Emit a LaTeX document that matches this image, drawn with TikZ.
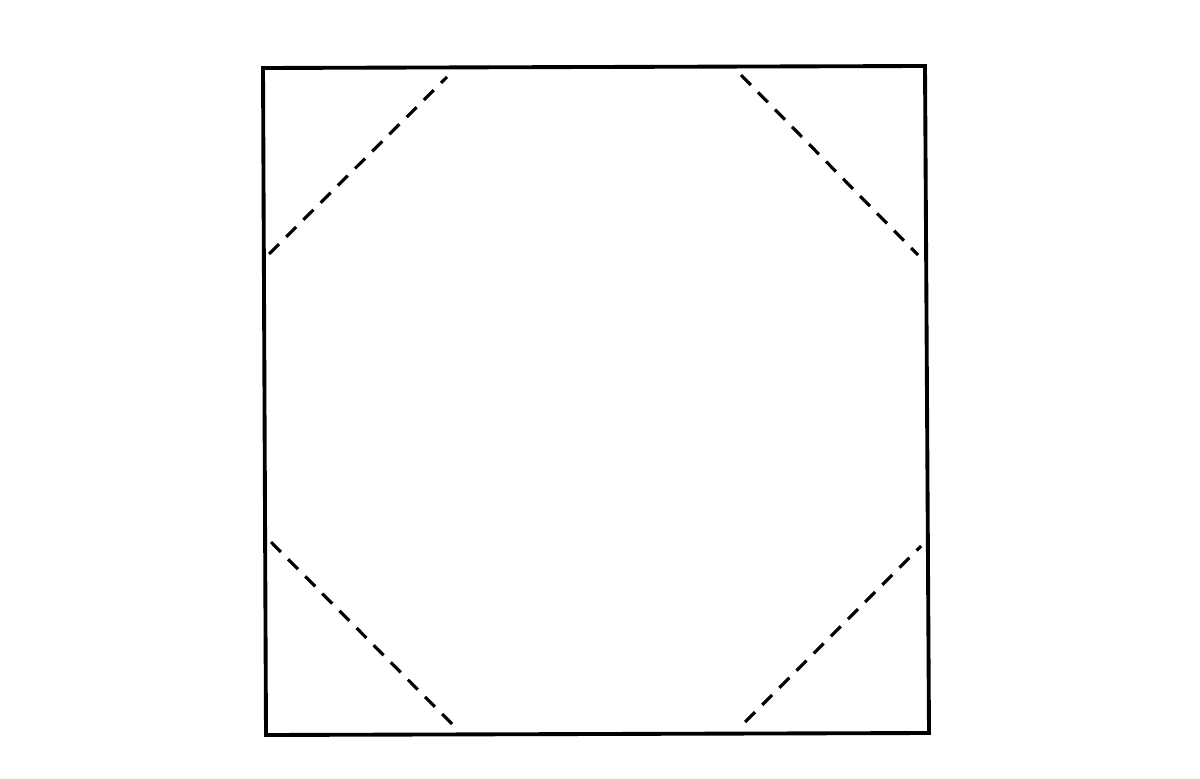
\documentclass[tikz,border=0pt]{standalone}
\begin{document}
\begin{tikzpicture}[x=0.01cm,y=-0.01cm,
  edge/.style={line width=1.1pt,line join=miter},
  cut/.style={line width=0.9pt,dash pattern=on 4pt off 2.9pt}]
\useasboundingbox (0,0) rectangle (1200,779);
\coordinate (tl) at (263,68);
\coordinate (tr) at (925,66);
\coordinate (br) at (929,733);
\coordinate (bl) at (266,735);
\draw[edge] (tl) -- (tr) -- (br) -- (bl) -- cycle;
\coordinate (a1) at (269,254); \coordinate (a2) at (447,77);
\coordinate (b1) at (741,75);  \coordinate (b2) at (918,255);
\coordinate (c1) at (271,542); \coordinate (c2) at (455,727);
\coordinate (d1) at (745,722); \coordinate (d2) at (921,546);
\draw[cut] (a1) -- (a2);
\draw[cut] (b1) -- (b2);
\draw[cut] (c1) -- (c2);
\draw[cut] (d1) -- (d2);
\end{tikzpicture}
\end{document}
